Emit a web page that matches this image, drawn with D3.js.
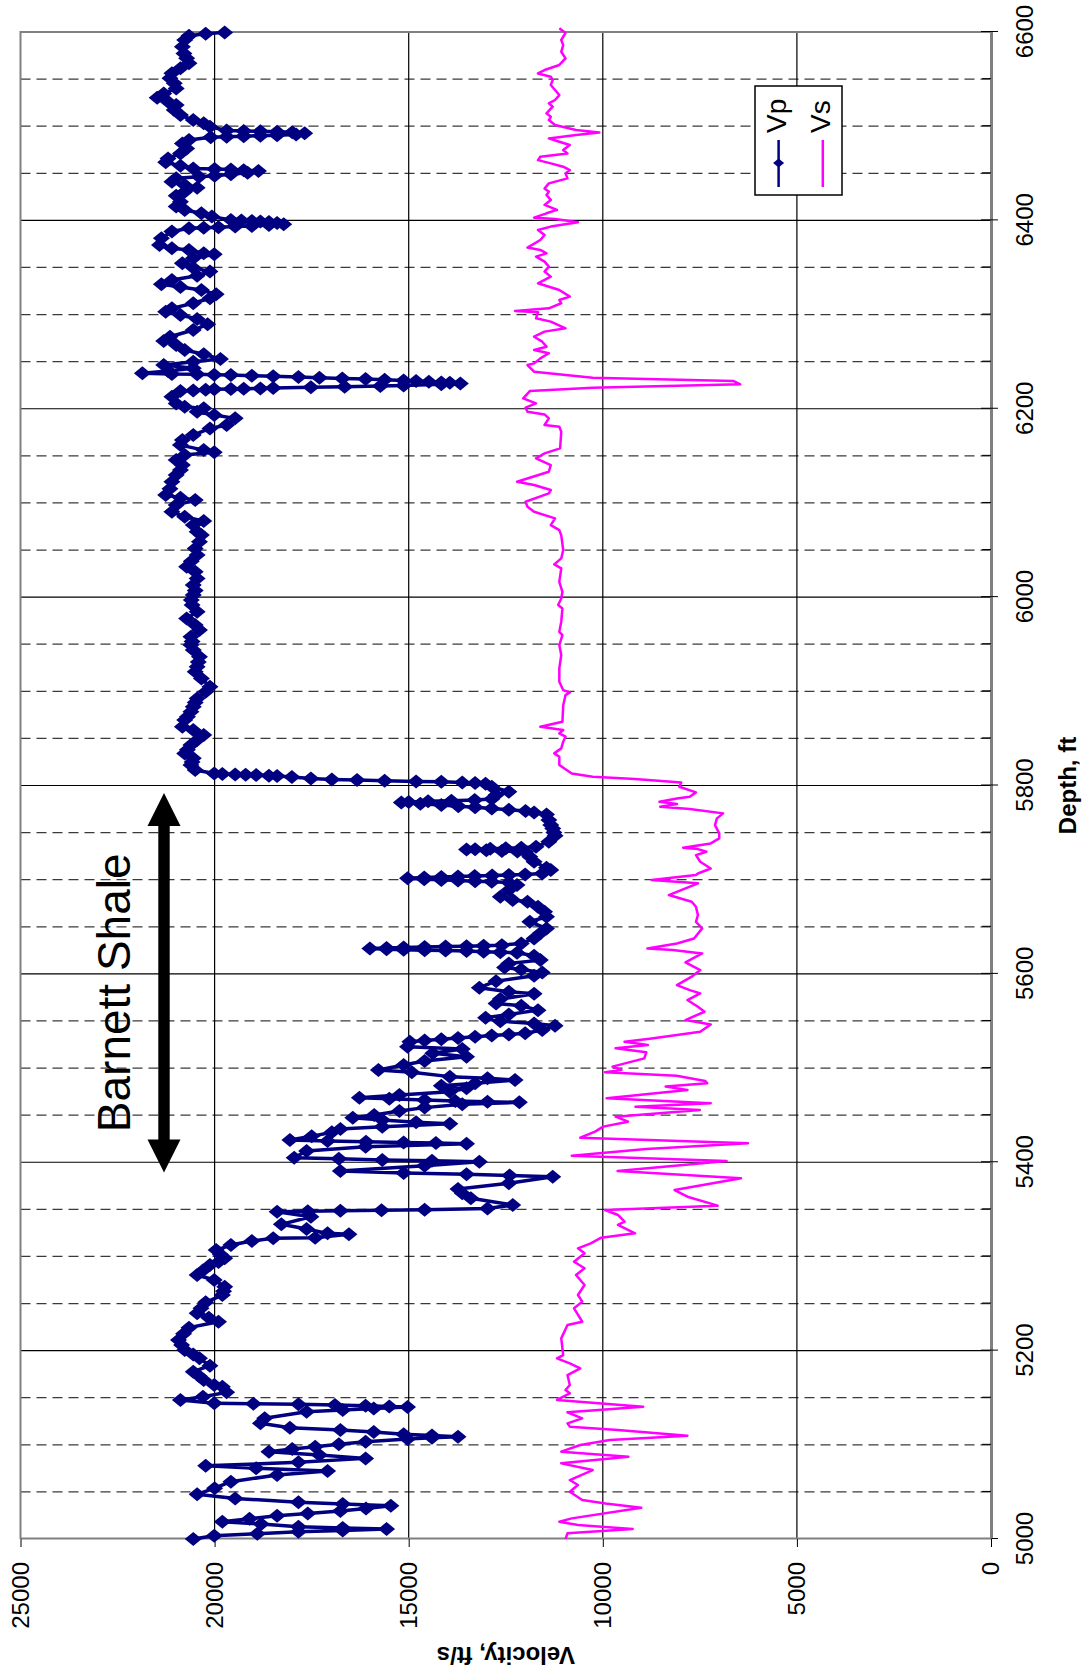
<!DOCTYPE html>
<html>
<head>
<meta charset="utf-8">
<script src="https://cdn.jsdelivr.net/npm/d3@7"></script>
<style>
  body { margin: 0; background: #fff; }
  svg { display: block; }
  text { font-family: "Liberation Sans", Arial, sans-serif; fill: #000; }
</style>
</head>
<body>
<div id="chart"></div>
<script>
const vpData = [
  [6599.6,19740],[6598.2,20230],[6596.1,20660],[6591.5,20770],[6584.4,20830],[6577.3,20790],[6572,20720],[6566.7,20660],
  [6561.4,20880],[6556.1,21100],[6550.8,21150],[6545.5,21040],[6540.1,20990],[6534.8,21310],[6530.2,21480],[6526,21200],
  [6522.4,20990],[6517.1,21040],[6511.8,20880],[6506.5,20550],[6503,20280],[6499.4,20120],
  [6495.5,19690],[6495,19250],[6494.6,18820],[6494.2,18390],[6493.6,18000],[6492.6,17680],[6491.2,17900],[6490.4,18390],
  [6489.9,18820],[6489.3,19250],[6488.8,19690],[6488.3,20100],
  [6485.3,20660],[6481.7,20830],[6476.4,20720],[6471.1,20880],[6465.8,21200],[6461.6,21260],[6458,20880],[6455.2,20550],
  [6454.5,20000],[6454,19580],[6453.3,19250],[6452.5,18870],[6450.5,19150],[6449,19580],[6447.5,20000],[6446.2,20400],
  [6444.6,20990],[6441,21100],[6437.5,20770],[6434.7,20450],[6430.4,20770],[6426.2,20990],
  [6419.9,20880],[6414.6,20990],[6411.1,20770],[6407.5,20340],[6404,20070],
  [6400.5,19580],[6400,19310],[6399.4,19040],[6398.8,18820],[6398.2,18600],[6397.3,18390],[6396,18220],[6395,18600],
  [6394.1,19040],[6393.4,19470],[6392.7,19900],[6392.2,20280],[6391.6,20660],
  [6388.1,21100],[6381,21370],[6373.9,21420],[6370.4,21100],[6368.6,20660],[6365.1,20280],[6364,20010],[6359.7,20550],
  [6354.4,20830],[6349.8,20550],[6345.6,20120],[6341.3,20450],[6336.7,21100],[6332.1,21370],[6329.3,20880],[6326.1,20340],
  [6321.5,19960],[6317.3,20120],[6312,20550],[6306.6,21100],[6303.1,21260],[6299.6,20880],[6295.3,20450],[6289.6,20180],
  [6283.6,20550],[6276.5,21150],[6271.9,21310],[6267.7,20990],[6262.4,20770],[6257.8,20280],[6252.8,19850],[6250,20550],
  [6246.5,21310],[6242.9,20550],[6240,21200],[6237.6,21860],
  [6236.8,21100],[6236.5,20450],[6236.1,20010],[6235.8,19580],[6235.1,19040],[6234.4,18490],[6233.7,17840],[6233,17300],
  [6232.2,16710],[6231.5,16110],[6230.8,15620],[6230.1,15130],[6229.4,14810],[6228.7,14480],[6228,14160],[6227.6,13940],
  [6226.9,13670],
  [6225.9,14160],[6224.8,15130],[6224.1,15730],[6223.4,16650],[6222.7,17520],[6222,18490],[6221.6,18820],[6221.3,19250],
  [6220.9,19580],[6220.6,20010],[6220.2,20230],[6219.5,20550],[6218.8,20880],
  [6212.8,21100],[6205.7,20990],[6202.2,20770],[6200.4,20280],[6196.8,20450],[6193.3,20010],[6189.8,19470],[6182.7,19690],
  [6179.1,20120],[6172.1,20550],[6166.8,20830],[6161.4,20880],[6156.1,20280],[6153.7,20010],[6150.8,20770],[6145.5,20990],
  [6140.2,20830],[6135,20880],[6129.6,20990],[6122.5,21100],[6115,21150],[6108.3,21260],[6105.5,20880],[6103,20500],
  [6097.7,20990],[6090.6,21100],[6085.3,20770],[6080.7,20280],[6076.5,20550],[6069.4,20450],
  [6065.9,20340],[6058.8,20390],[6051.7,20500],[6044.7,20450],[6038,20600],[6032.3,20720],[6027,20500],[6019.9,20450],
  [6012.8,20550],[6007,20500],[6002.2,20550],[5997,20600],[5991.6,20580],[5984.5,20450],[5977.4,20720],[5970.3,20500],
  [5965,20390],[5958,20610],[5953,20580],[5949.1,20610],[5943.8,20550],[5936.7,20390],[5931,20420],[5926.1,20450],
  [5920.8,20500],[5913.7,20340],[5904.8,20120],[5899.5,20230],[5892.4,20450],[5888,20500],[5883.6,20550],
  [5878.3,20610],[5873,20700],[5869.5,20770],[5862.4,20830],[5858.9,20550],[5853.5,20280],[5848.2,20450],[5842.9,20610],
  [5838,20700],[5834.1,20770],[5828.8,20550],[5825,20580],[5821.7,20610],[5816.4,20500],
  [5812.8,20010],[5812.1,19800],[5811.8,19470],[5811.4,19200],[5811.1,18930],[5810.4,18600],[5810,18390],[5808.9,18010],
  [5807.5,17520],[5806.5,16980],[5805.8,16330],[5805,15620],[5804.3,14810],[5804,14160],[5803.3,13620],[5802.6,13290],
  [5801.9,13020],
  [5798.7,12860],[5793.4,12420],[5789.8,12750],[5785.6,12860],
  [5784.5,13300],[5783.8,13900],[5783.2,14500],[5782.6,15000],[5782,15190],[5780.5,14700],[5779.3,14160],[5778,13720],
  [5776.8,13290],[5775.5,12860],[5774.2,12420],[5772.8,11990],[5771.4,11770],[5769.3,11450],
  [5763.3,11390],[5758,11340],[5754.4,11290],[5750,11260],[5746.6,11230],[5740.3,11390],[5734.9,11720],
  [5734,12100],[5733.4,12500],[5732.9,12900],[5732.4,13290],[5732,13510],[5731.2,13000],[5730.5,12600],[5729.8,12200],
  [5729.3,11990],
  [5724.3,11880],[5719,11770],[5712.7,11450],[5710.2,11340],[5706.6,11560],
  [5705.6,12000],[5705,12420],[5704.5,12850],[5704,13300],[5703.4,13730],[5702.8,14160],[5702.2,14600],[5701.6,15030],
  [5700.5,14600],[5699.8,14160],[5699.1,13730],[5698.4,13290],[5697.7,12860],[5697.1,12420],
  [5694.3,12210],[5689,12420],[5681.9,12640],[5678.4,12320],[5676.6,11940],[5671.3,11670],[5666,11500],[5660.7,11450],
  [5655.3,11880],[5648.3,11450],[5643,11610],[5637.6,11770],[5632.3,12100],
  [5630.5,12600],[5629.8,13070],[5629.4,13510],[5629,14050],[5628.5,14590],[5628,15130],[5627.5,15570],[5627,16000],
  [5626.2,15570],[5625.7,15130],[5625.2,14590],[5624.7,14050],[5624.2,13510],[5623.6,13070],[5623,12640],[5622.4,12210],
  [5619.2,11770],[5614.6,11610],[5611.1,12420],[5606.8,12530],[5604.7,12100],[5601.5,11560],[5598,11770],[5592.3,12750],
  [5585.3,13180],[5581,12420],[5578.9,11770],[5573.2,12640],[5568.6,12750],[5566.1,12100],[5561.5,11670],[5556.9,12420],
  [5553.4,13020],[5549.8,12640],[5547.4,11770],[5544.9,11230],[5540.3,11560],
  [5537,12000],[5535.7,12420],[5534.5,12860],[5533.2,13290],[5532,13730],[5530.7,14160],[5529.3,14590],[5527.9,14970],
  [5522.7,15030],[5520.3,13620],[5515.7,14380],[5512.1,13510],[5507.5,14590],[5503.3,15130],[5498,15780],[5495.5,14920],
  [5490.9,13940],[5489.1,12970],[5487.3,12260],[5483.8,13290],[5481.3,14160],[5478.5,13510],[5474.9,13940],[5471.4,15240],
  [5468.6,16270],[5467.4,15500],[5466.1,14590],[5465,13800],[5464.3,12970],[5463.6,12150],[5461.5,13620],[5458,14590],
  [5454.4,15240],[5450.2,15890],[5447.3,16440],[5444.9,15680],[5442.4,14810],[5441,13940],[5437.8,15680],[5435.3,16760],
  [5431.8,16980],[5427.5,17500],[5423.6,18060],[5422.5,17090],[5421.8,16100],[5421.1,15130],[5420.4,14300],[5419.7,13510],
  [5416.5,16110],[5411.9,17630],[5404.8,17950],[5403.6,16800],[5402.4,15680],[5401.5,14400],[5400.6,13180],[5396.4,14590],
  [5390.7,16760],[5388.6,15130],[5387.2,13510],[5386,12400],[5384.7,11290],[5377.6,12420],[5371.6,13730],[5367,13620],
  [5361.7,13400],[5354.6,12320],[5351,12970],[5349.6,14590],[5349.1,15700],[5348.6,16760],[5348,17600],[5347.5,18390],
  [5342.2,17520],[5334.1,18280],[5329.1,17630],[5324.5,17090],[5323.5,16540],[5319.9,17410],[5319.2,18490],[5316.4,19040],
  [5312.1,19580],[5306.8,19960],[5302,19850],[5298,19740],[5294,19900],[5290.9,20120],[5285,20300],[5280.3,20450],
  [5275,20010],[5267.9,19740],[5263,19770],[5259,19800],[5251.3,20230],[5245,20350],[5239.6,20450],[5235,20150],
  [5230.7,19900],[5224.4,20660],[5218,20800],[5211.3,20930],[5206,20850],[5200.6,20770],[5196,20550],[5191.8,20390],
  [5184,20120],[5177.6,20550],[5173,20400],[5168.8,20280],
  [5163.5,20010],[5161.7,19800],[5155.7,19690],[5151,20300],[5147.6,20880],[5144,20010],
  [5143.6,19000],[5143,17840],[5142.4,16900],[5141.6,16110],[5140.8,15500],[5140.1,15030],[5138.5,15900],[5137,16700],
  [5135.2,17630],[5128.1,18710],[5122.8,18820],[5118.2,18060],[5115.7,16760],[5113.5,15900],[5111.1,15130],[5110,14400],
  [5108.6,13730],[5107.4,14400],[5106.2,15030],[5103.3,16110],[5100.5,16800],[5098,17410],[5095.5,18000],[5092.7,18600],
  [5089.2,17300],[5085.6,16110],[5081.4,17840],[5077.8,20230],[5075,18930],[5072.2,17090],[5067.9,18390],[5060.8,19580],
  [5054,20000],[5047.4,20450],[5043.1,19470],[5038.9,17840],[5037.2,16700],[5035.4,15460],[5032.5,16100],[5029.7,16760],
  [5027,17600],[5024.7,18390],[5021.5,19100],[5018.4,19800],[5015.8,18800],[5013.1,17840],[5011.8,16700],[5010.6,15570],
  [5009,16700],[5007.7,17840],[5005.6,18900],[5003.5,20010],[5000,20550]
];

const vsData = [
  [6604,11120],[6599,10960],[6591.5,11070],[6586,11020],[6579,11070],[6572,10960],[6565,11120],[6559.6,11500],
  [6556,11670],[6552.5,11340],[6549,11290],[6543.7,11340],[6538.4,11230],[6533,11120],[6527.8,11230],[6524.2,11390],
  [6520.7,11290],[6513.6,11450],[6510,11340],[6506.5,11390],[6501.2,11230],[6495.9,10690],[6493.4,10090],[6490.6,10690],
  [6487,11390],[6483.5,11120],[6480,10850],[6474.7,11020],[6471.1,10910],[6467.6,11610],[6464,11670],[6460.5,11340],
  [6457,11020],[6453.4,10850],[6449.9,10960],[6444.6,10910],[6439.3,11390],[6433.9,11500],[6430.4,11390],
  [6427,11450],[6421.7,11340],[6416.4,11500],[6411.1,11180],[6407.5,11450],[6402.9,11770],[6401.5,11230],[6398,10640],
  [6393.4,11340],[6389.8,11670],[6384.5,11500],[6379.2,11610],[6371.1,11940],[6368.6,11610],[6365,11450],[6361.5,11720],
  [6356.2,11500],[6350.9,11390],[6345.6,11500],[6340.3,11340],[6333.2,11670],[6326.1,11120],[6319,10850],[6315.5,11120],
  [6312,11070],[6306.6,11390],[6303.8,12260],[6302.4,11670],[6296,11720],[6292.5,11340],[6285.4,10960],[6281.9,11500],
  [6276.5,11770],[6271.2,11560],[6265.9,11450],[6262.4,11770],[6258.9,11390],[6253.5,11610],[6248.2,11770],
  [6246.4,11940],[6239.3,11770],[6233,10260],[6229.4,6630],[6225.9,6460],[6222.3,10260],[6218.8,11880],[6211,12050],
  [6205.7,11720],[6201.1,11990],[6196.8,11940],[6194,11500],[6189.8,11390],[6182.7,11500],[6180.9,11120],[6175.6,11070],
  [6157.9,11100],[6152.6,11500],[6147.3,11720],[6140.2,11340],[6133.1,11390],[6122.5,12210],[6119,11770],[6113.7,11340],
  [6110.1,11390],[6101.3,11990],[6096,11940],[6090.6,11770],[6083.6,11230],[6076.5,11340],[6071.2,11120],
  [6065.5,11070],[6050,11020],[6041.1,11070],[6034.8,11250],[6030.5,11070],[6016.3,11120],[6005.7,11040],[5998.6,11070],
  [5991.6,11150],[5988,11040],[5973.9,11070],[5963.2,11120],[5959.7,11040],[5949.1,11120],[5938.5,11070],[5924.3,11120],
  [5910.1,11120],[5901.3,11020],[5898.8,10850],[5896,10960],
  [5885,11020],[5867.7,11040],[5862.4,11610],[5858.9,11020],[5855.3,11120],[5851.8,10960],[5846.5,11020],[5839.4,11070],
  [5834.1,11250],[5830.5,11120],[5821.7,11120],[5812.8,10800],[5809.3,10260],[5806.8,9170],[5803.3,7980],[5798.7,8030],
  [5792.7,7600],[5788.1,7760],[5786.3,8090],[5782.7,8540],[5780.3,8090],[5777.4,8520],[5775,7760],[5770.4,6900],
  [5765.1,7060],[5758,7110],[5749.1,7000],[5743.8,7000],[5738.5,7220],[5734,7930],[5732.5,7550],[5729.6,7330],
  [5726.1,7600],[5719,7490],[5711.9,7220],[5706.6,7550],
  [5704.9,7600],[5699.6,8740],[5696.1,7550],[5683.7,8300],[5676.6,7710],[5671.3,7600],[5662.4,7550],[5655.3,7600],
  [5648.3,7440],[5637.6,7650],[5632.3,8090],[5627,8850],[5625.3,8200],[5621.7,7440],[5612.2,7870],[5604,7490],
  [5597,7710],[5588.1,8090],[5582.8,7760],[5579.3,7490],[5572.2,7820],[5565.1,7550],[5559.8,7380],[5551,7870],
  [5546.3,7220],[5538.5,7490],[5531.5,8740],[5527.9,9440],
  [5524.5,8840],[5521,9670],[5516.7,8880],[5510.3,8930],[5501.5,9750],[5498,9520],[5495.5,9940],[5491.9,8100],
  [5486.3,7360],[5483.8,7310],[5480.3,8380],[5476.7,7820],[5467.9,9900],[5462.6,7220],[5459,9160],[5455.5,7500],
  [5448.4,9670],[5443.1,9350],[5437.8,9990],[5432.5,10200],[5426.1,10580],[5420.1,6260],[5414.1,8880],[5407,10800],
  [5401.3,6810],[5390.7,9620],[5382.9,6440],[5370.5,8150],[5363.4,7820],[5353.9,7040],[5349.3,9940],
  [5344,9610],[5336.9,9440],[5333.4,9610],[5324.5,9170],[5319.9,10040],[5313.9,10310],[5308.6,10640],[5303.3,10470],
  [5294.4,10740],[5287.4,10470],[5280.3,10690],[5269.7,10470],[5259,10640],[5252,10530],[5244.9,10740],[5230.7,10530],
  [5227.2,10910],[5213,11070],[5195.3,11020],[5191.8,11180],[5186.5,10850],[5181.2,10580],[5174.1,10910],
  [5163.5,10850],[5158.2,10960],[5154.7,10850],[5147.6,11180],[5140.5,8960],[5134.5,10910],[5128.1,10530],[5122.8,10910],
  [5119.3,10850],[5115.7,9610],[5109.7,7820],[5105.1,9820],[5099.8,10580],[5092.7,11070],[5087.4,9340],[5080.3,11070],
  [5073.2,10260],[5062.6,10850],[5057.3,10640],[5050.2,10850],[5041.4,10530],[5037.8,9930],[5033.2,9010],[5021.9,10800],
  [5018.4,11120],[5014.8,10640],[5010.6,9230],[5006,10910],[5000,10960]
];

const depthMajor = [5000, 5200, 5400, 5600, 5800, 6000, 6200, 6400, 6600];
const depthMinor = [5050, 5100, 5150, 5250, 5300, 5350, 5450, 5500, 5550, 5650, 5700, 5750,
                    5850, 5900, 5950, 6050, 6100, 6150, 6250, 6300, 6350, 6450, 6500, 6550];
const velocityTicks = [0, 5000, 10000, 15000, 20000, 25000];
const barnett = [5389, 5792];   // depth span of the arrow

// the chart is laid out upright (depth across, velocity up) and then turned a quarter left
const svg = d3.select('#chart').append('svg')
    .attr('width', 1084)
    .attr('height', 1678);
svg.append('rect').attr('width', 1084).attr('height', 1678).attr('fill', '#fff');

const g = svg.append('g')
    .attr('transform', 'translate(0,1678) rotate(-90)');

const x = d3.scaleLinear().domain([5000, 6600]).range([139, 1646]);
const y = d3.scaleLinear().domain([0, 25000]).range([991, 20.5]);

// gridlines
g.append('g')
  .selectAll('line')
  .data(depthMinor)
  .join('line')
    .attr('x1', d => x(d)).attr('x2', d => x(d))
    .attr('y1', y(25000)).attr('y2', y(0))
    .attr('stroke', '#3a3a3a')
    .attr('stroke-width', 1.3)
    .attr('stroke-dasharray', '10,6');

g.append('g')
  .selectAll('line')
  .data(depthMajor.slice(1, -1))
  .join('line')
    .attr('x1', d => x(d)).attr('x2', d => x(d))
    .attr('y1', y(25000)).attr('y2', y(0))
    .attr('stroke', '#000')
    .attr('stroke-width', 1.2);

g.append('g')
  .selectAll('line')
  .data(velocityTicks.slice(1, -1))
  .join('line')
    .attr('x1', x(5000)).attr('x2', x(6600))
    .attr('y1', d => y(d)).attr('y2', d => y(d))
    .attr('stroke', '#000')
    .attr('stroke-width', 1.2);

// plot frame (top and right of the upright chart)
g.append('path')
    .attr('d', `M${x(5000)},${y(25000)}H${x(6600)}V${y(0)}`)
    .attr('fill', 'none')
    .attr('stroke', '#808080')
    .attr('stroke-width', 2);

// depth axis
const depthAxis = g.append('g')
    .attr('transform', `translate(0,${y(0)})`)
    .call(d3.axisBottom(x).tickValues(depthMajor).tickSize(7).tickSizeOuter(0).tickPadding(18).tickFormat(d3.format('d')));
depthAxis.select('.domain').attr('stroke', '#808080').attr('stroke-width', 3);
depthAxis.selectAll('.tick line').attr('stroke', '#000').attr('y1', -10);
depthAxis.selectAll('.tick text').attr('font-size', 24).attr('font-family', '"Liberation Sans", Arial, sans-serif');

g.append('g')
    .attr('transform', `translate(0,${y(0)})`)
    .call(d3.axisBottom(x).tickValues(depthMinor).tickSize(-9).tickSizeOuter(0).tickFormat(''))
    .call(a => a.select('.domain').remove())
    .selectAll('.tick line').attr('stroke', '#000');

// velocity axis
const velAxis = g.append('g')
    .attr('transform', `translate(${x(5000)},0)`)
    .call(d3.axisLeft(y).tickValues(velocityTicks).tickSize(8).tickSizeOuter(0).tickPadding(15).tickFormat(d3.format('d')));
velAxis.select('.domain').attr('stroke', '#808080').attr('stroke-width', 2);
velAxis.selectAll('.tick line').attr('stroke', '#000');
velAxis.selectAll('.tick text').attr('font-size', 24).attr('font-family', '"Liberation Sans", Arial, sans-serif');

// axis titles
g.append('text')
    .attr('x', (x(5000) + x(6600)) / 2)
    .attr('y', 1076)
    .attr('text-anchor', 'middle')
    .attr('font-size', 24)
    .attr('font-weight', 'bold')
    .text('Depth, ft');

g.append('text')
    .attr('transform', `translate(31,${(y(0) + y(25000)) / 2}) rotate(-90)`)
    .attr('text-anchor', 'middle')
    .attr('font-size', 24)
    .attr('font-weight', 'bold')
    .text('Velocity, ft/s');

// series
const line = d3.line().x(d => x(d[0])).y(d => y(d[1]));
const diamond = 'M0,-8.5L7,0L0,8.5L-7,0Z';

g.append('path')
    .datum(vpData)
    .attr('d', line)
    .attr('fill', 'none')
    .attr('stroke', '#000080')
    .attr('stroke-width', 3.5)
    .attr('stroke-linejoin', 'round');

g.append('g')
  .selectAll('path')
  .data(vpData)
  .join('path')
    .attr('transform', d => `translate(${x(d[0])},${y(d[1])})`)
    .attr('d', diamond)
    .attr('fill', '#000080');

g.append('path')
    .datum(vsData)
    .attr('d', line)
    .attr('fill', 'none')
    .attr('stroke', '#ff00ff')
    .attr('stroke-width', 2.5)
    .attr('stroke-linejoin', 'round');

// Barnett Shale annotation
const ay = 164, head = 33, hw = 16.5, sw = 5.7;
const a0 = x(barnett[0]), a1 = x(barnett[1]);
g.append('path')
    .attr('d', `M${a0},${ay}L${a0 + head},${ay - hw}L${a0 + head},${ay - sw}L${a1 - head},${ay - sw}L${a1 - head},${ay - hw}`
             + `L${a1},${ay}L${a1 - head},${ay + hw}L${a1 - head},${ay + sw}L${a0 + head},${ay + sw}L${a0 + head},${ay + hw}Z`)
    .attr('fill', '#000');

g.append('text')
    .attr('x', x((barnett[0] + barnett[1]) / 2) - 10)
    .attr('y', 130)
    .attr('text-anchor', 'middle')
    .attr('font-size', 46)
    .text('Barnett Shale');

// legend
const legendItems = [
  { name: 'Vp', color: '#000080', marker: true },
  { name: 'Vs', color: '#ff00ff', marker: false }
];
const legend = g.append('g').attr('transform', 'translate(1483,755)');
legend.append('rect')
    .attr('width', 109).attr('height', 87)
    .attr('fill', '#fff')
    .attr('stroke', '#000')
    .attr('stroke-width', 1.5);
const item = legend.selectAll('g')
  .data(legendItems)
  .join('g')
    .attr('transform', (d, i) => `translate(0,${23.6 + i * 44.2})`);
item.append('line')
    .attr('x1', 8).attr('x2', 55)
    .attr('stroke', d => d.color)
    .attr('stroke-width', 2.5);
item.filter(d => d.marker).append('path')
    .attr('transform', 'translate(32,0)')
    .attr('d', 'M0,-5.5L4.5,0L0,5.5L-4.5,0Z')
    .attr('fill', d => d.color);
item.append('text')
    .attr('x', 62)
    .attr('y', 7.5)
    .attr('font-size', 28)
    .text(d => d.name);
</script>
</body>
</html>
